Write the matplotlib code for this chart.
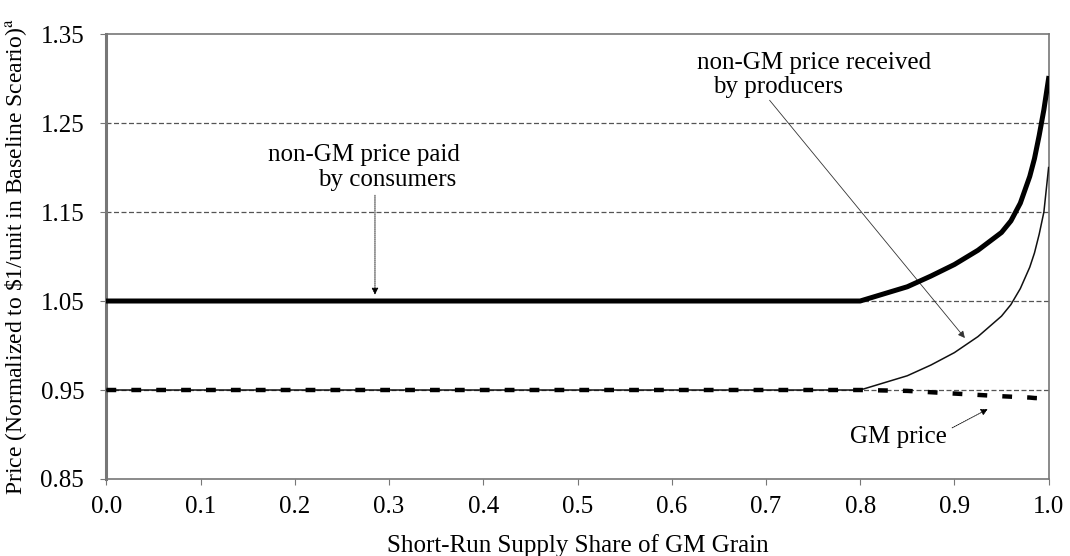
import numpy as np
import matplotlib.pyplot as plt

plt.rcParams['font.family'] = ['Liberation Serif', 'DejaVu Serif']
plt.rcParams['mathtext.fontset'] = 'stix'

# GM supply share (x) and price series
share = [0.0, 0.8, 0.825, 0.85, 0.875, 0.9, 0.925, 0.95, 0.96, 0.97,
         0.98, 0.985, 0.99, 0.995, 1.0]
consumer_price = [1.05, 1.05, 1.058, 1.066, 1.078, 1.091, 1.107, 1.127, 1.140,
                  1.160, 1.19, 1.21, 1.236, 1.265, 1.30]
producer_price = [0.95, 0.95, 0.958, 0.966, 0.978, 0.992, 1.010, 1.033, 1.046,
                  1.064, 1.088, 1.104, 1.125, 1.150, 1.20]
gm_price = [0.95, 0.95, 0.9495, 0.949, 0.9475, 0.946, 0.9445, 0.943, 0.9425,
            0.942, 0.9415, 0.941, 0.9408, 0.9404, 0.940]

x_ticks = [0.0, 0.1, 0.2, 0.3, 0.4, 0.5, 0.6, 0.7, 0.8, 0.9, 1.0]
y_ticks = [0.85, 0.95, 1.05, 1.15, 1.25, 1.35]
grid_levels = [0.95, 1.05, 1.15, 1.25]

fig = plt.figure(figsize=(10.7, 5.56), dpi=100)
ax = fig.add_axes([0.0995, 0.1385, 0.8805, 0.8003])

# dashed horizontal grid
for g in grid_levels:
    ax.axhline(g, color='#555555', lw=0.9, ls=(0, (4, 2)), zorder=1)

# curves
ax.plot(share, producer_price, color='#111111', lw=1.1, zorder=3)
ax.plot(share, gm_price, color='black', lw=3.2, ls=(0, (2.2, 3.4)),
        dash_capstyle='butt', zorder=4)
ax.plot(share, consumer_price, color='black', lw=3.6, zorder=5)

ax.set_xlim(0, 1.0)
ax.set_ylim(0.85, 1.35)
ax.set_xticks(x_ticks)
ax.set_xticklabels([f'{v:.1f}' for v in x_ticks])
ax.set_yticks(y_ticks)
ax.set_yticklabels([f'{v:.2f}' for v in y_ticks])
ax.tick_params(labelsize=18, length=4, color='#777777')
ax.tick_params(axis='y', pad=12)
ax.tick_params(axis='x', pad=8)

for s in ax.spines.values():
    s.set_color('#777777')
    s.set_linewidth(1.2)
ax.spines['left'].set_linewidth(2.2)

ax.set_xlabel('Short-Run Supply Share of GM Grain', fontsize=18, labelpad=12)
ax.set_ylabel(r'Price (Normalized to \$1/unit in Baseline Sceario)$^{\rm a}$',
              fontsize=17, labelpad=8)

# annotations
ax.text(0.171, 1.214, 'non-GM price paid', fontsize=18, ha='left', va='center')
ax.text(0.225, 1.186, 'by consumers', fontsize=18, ha='left', va='center')
ax.annotate('', xy=(0.285, 1.054), xytext=(0.285, 1.172),
            arrowprops=dict(arrowstyle='-|>', color='black', lw=0.6,
                            ls=(0, (1.5, 1)), mutation_scale=10))

ax.text(0.627, 1.317, 'non-GM price received', fontsize=18, ha='left', va='center')
ax.text(0.644, 1.290, 'by producers', fontsize=18, ha='left', va='center')
ax.annotate('', xy=(0.913, 1.006), xytext=(0.702, 1.278),
            arrowprops=dict(arrowstyle='-|>', color='#333333', lw=0.6,
                            mutation_scale=10))

ax.text(0.789, 0.897, 'GM price', fontsize=18, ha='left', va='center')
ax.annotate('', xy=(0.938, 0.930), xytext=(0.895, 0.906),
            arrowprops=dict(arrowstyle='-|>', color='black', lw=0.6,
                            ls=(0, (1.5, 1)), mutation_scale=10))

plt.savefig('out.png', dpi=100)
